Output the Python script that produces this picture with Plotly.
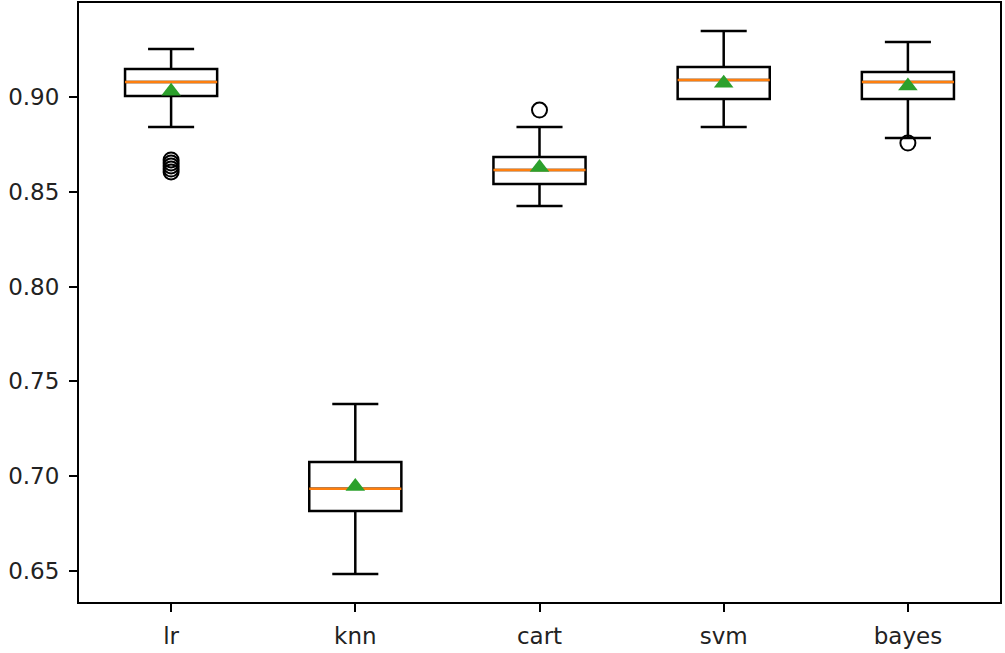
import plotly.graph_objects as go

categories = ["lr", "knn", "cart", "svm", "bayes"]
positions = [1, 2, 3, 4, 5]
q1 = [0.9005, 0.6816, 0.8541, 0.8989, 0.8989]
median = [0.9079, 0.6933, 0.8615, 0.9090, 0.9079]
q3 = [0.9148, 0.7075, 0.8684, 0.9158, 0.9132]
lower_whisker = [0.8842, 0.6484, 0.8425, 0.8842, 0.8784]
upper_whisker = [0.9253, 0.7381, 0.8842, 0.9348, 0.9290]
means = [0.9030, 0.6945, 0.8628, 0.9072, 0.9058]
outlier_x = [1, 1, 1, 1, 1, 3, 5]
outlier_y = [0.8668, 0.8652, 0.8636, 0.8620, 0.8605, 0.8931, 0.8757]

box_width = 0.5

fig = go.Figure()
fig.add_trace(go.Box(
    x=positions, q1=q1, median=median, q3=q3,
    lowerfence=lower_whisker, upperfence=upper_whisker,
    width=box_width, whiskerwidth=0.5,
    line=dict(color="black", width=2.5),
    fillcolor="rgba(0,0,0,0)",
    boxpoints=False, showlegend=False, hoverinfo="skip",
))

# median lines (orange)
mx, my = [], []
for p, m in zip(positions, median):
    mx += [p - box_width / 2, p + box_width / 2, None]
    my += [m, m, None]
fig.add_trace(go.Scatter(x=mx, y=my, mode="lines",
                         line=dict(color="#ff7f0e", width=2.5),
                         showlegend=False, hoverinfo="skip"))

# outliers
fig.add_trace(go.Scatter(x=outlier_x, y=outlier_y, mode="markers",
                         marker=dict(symbol="circle-open", size=15,
                                     color="black", line=dict(width=2)),
                         showlegend=False))

# means
fig.add_trace(go.Scatter(x=positions, y=means, mode="markers",
                         marker=dict(symbol="triangle-up", size=17,
                                     color="#2ca02c"),
                         showlegend=False))

axis_common = dict(showline=True, linecolor="black", linewidth=2,
                   mirror=True, ticks="outside", ticklen=8, tickwidth=2,
                   tickcolor="black", showgrid=False, zeroline=False,
                   automargin=False,
                   tickfont=dict(family="DejaVu Sans", size=23, color="#222"))

fig.update_layout(
    width=1005, height=653,
    margin=dict(l=79, r=5, t=3, b=51),
    plot_bgcolor="white", paper_bgcolor="white",
    xaxis=dict(range=[0.5, 5.5], tickmode="array", tickvals=positions,
               ticktext=categories, ticklabelstandoff=4, **axis_common),
    yaxis=dict(range=[0.6336, 0.9496], tickmode="array",
               tickvals=[0.65, 0.70, 0.75, 0.80, 0.85, 0.90],
               ticktext=["0.65", "0.70", "0.75", "0.80", "0.85", "0.90"],
               ticklabelstandoff=5, **axis_common),
)

fig.write_html("out.html", config={"displayModeBar": False},
               post_script="document.body.style.margin='0px';document.body.style.overflow='hidden';")
